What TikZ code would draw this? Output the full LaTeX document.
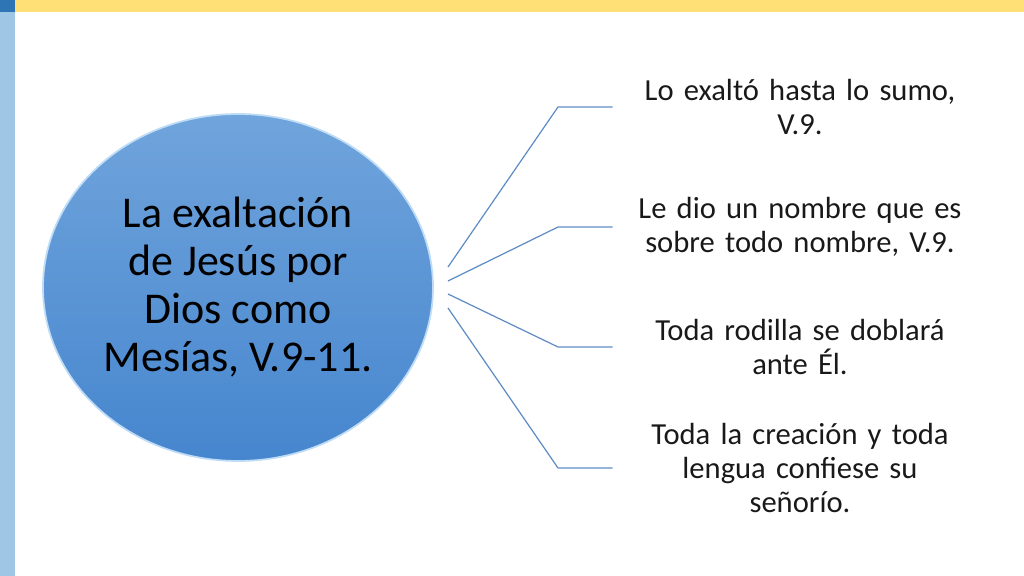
\documentclass[tikz,border=0pt]{standalone}
\usepackage{fontspec}
\setmainfont{Carlito}
\usetikzlibrary{shapes.geometric}
\definecolor{barYellow}{RGB}{254,224,119}
\definecolor{barDark}{RGB}{46,117,182}
\definecolor{barLight}{RGB}{160,198,230}
\definecolor{ballTop}{RGB}{112,164,220}
\definecolor{ballBot}{RGB}{70,134,206}
\definecolor{ballRim}{RGB}{190,220,245}
\definecolor{linkBlue}{RGB}{95,140,196}
\begin{document}
\begin{tikzpicture}[
	ball/.style={ellipse, minimum width=7.8cm, minimum height=6.94cm, top color=ballTop, bottom color=ballBot, draw=ballRim, line width=1pt, align=center, inner sep=0pt, font=\fontsize{25}{27.3}\selectfont},
	item/.style={text width=7.48cm, inner sep=0pt, align=center, text=black!90, font=\fontsize{17.4}{19.4}\selectfont},
	link/.style={draw=linkBlue, line width=0.7pt}]
		\useasboundingbox (0,0) rectangle (20.48,11.52);
		\fill[barYellow] (0,11.28) rectangle (20.48,11.52);
		\fill[barLight] (0,0) rectangle (0.3,11.28);
		\fill[barDark] (0,11.28) rectangle (0.3,11.52);
		
		\node (B) at (4.76,5.77) [ball] {La exaltación\\de Jesús por\\Dios como\\Mesías, V.9-11.};
		
		\node (T1) at (16,9.38) [item] {Lo exaltó hasta lo sumo,\\V.9.};
		\node (T2) at (16,6.98) [item] {Le dio un nombre que es\\sobre todo nombre, V.9.};
		\node (T3) at (16,4.58) [item] {Toda rodilla se doblará\\ante Él.};
		\node (T4) at (16,2.16) [item] {Toda la creación y toda\\lengua confiese su\\señorío.};
		
		\coordinate (S1) at (8.96,6.18);
		\coordinate (S2) at (8.96,5.90);
		\coordinate (S3) at (8.96,5.64);
		\coordinate (S4) at (8.96,5.36);
		
		\draw [link] (S1) -- (11.16,9.38) -- (T1.west);
		\draw [link] (S2) -- (11.16,6.98) -- (T2.west);
		\draw [link] (S3) -- (11.16,4.58) -- (T3.west);
		\draw [link] (S4) -- (11.16,2.16) -- (T4.west);
\end{tikzpicture}
\end{document}
